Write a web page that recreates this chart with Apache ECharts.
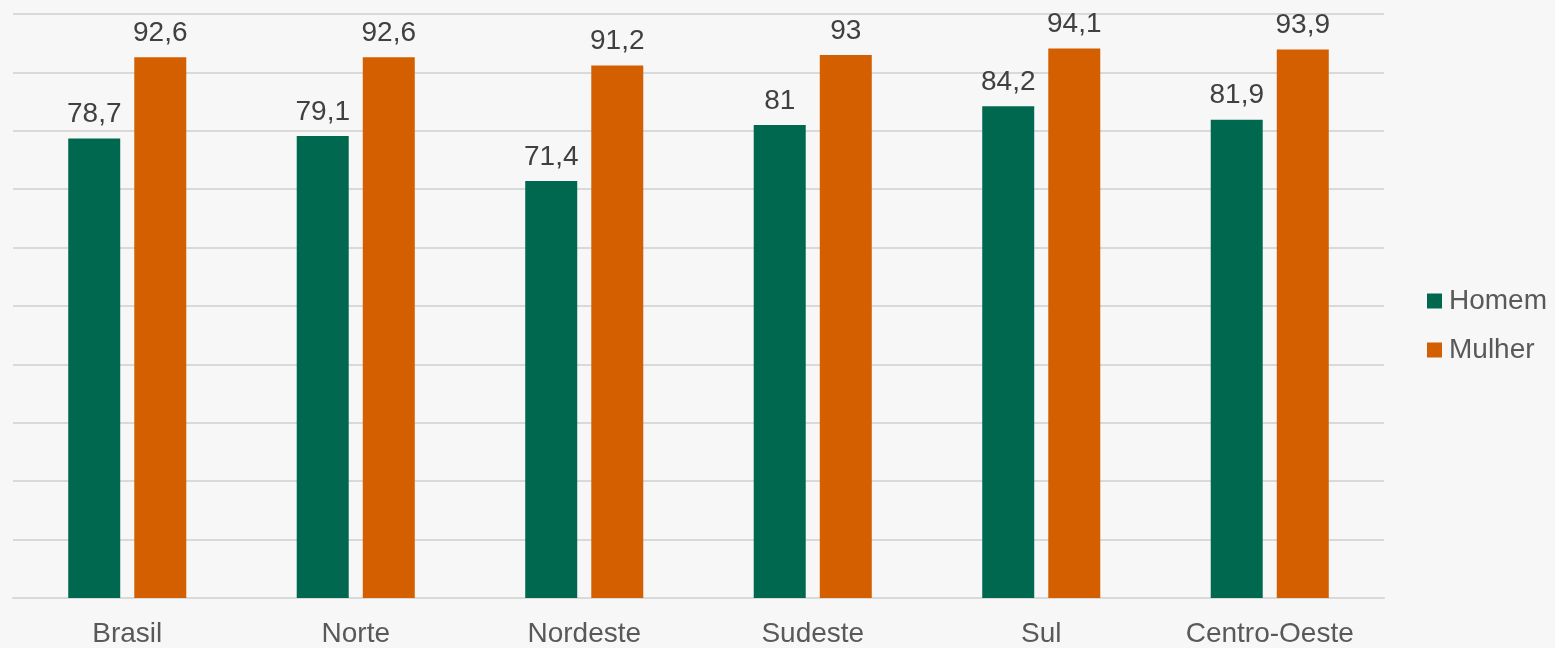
<!DOCTYPE html>
<html>
<head>
<meta charset="utf-8">
<script src="https://cdn.jsdelivr.net/npm/echarts@6/dist/echarts.min.js"></script>
<style>
  html, body { margin: 0; padding: 0; background: #f7f7f7; }
  #chart { width: 1555px; height: 648px; }
</style>
</head>
<body>
<div id="chart"></div>
<script>
// dados
const regioes = ['Brasil', 'Norte', 'Nordeste', 'Sudeste', 'Sul', 'Centro-Oeste'];
const homem = [78.7, 79.1, 71.4, 81, 84.2, 81.9];
const mulher = [92.6, 92.6, 91.2, 93, 94.1, 93.9];

const fmt = p => String(p.value).replace('.', ',');

const myChart = echarts.init(document.getElementById('chart'));
myChart.setOption({
  backgroundColor: '#f7f7f7',
  textStyle: { fontFamily: '"Liberation Sans", Arial, sans-serif' },
  animation: false,
  grid: { left: 13, right: 171, top: 14, bottom: 49, containLabel: false },
  legend: {
    orient: 'vertical',
    left: 1422,
    top: 282,
    itemWidth: 15,
    itemHeight: 15,
    itemGap: 21,
    icon: 'rect',
    textStyle: { fontSize: 28, color: '#595959', padding: [0, 0, 0, 2] },
    data: ['Homem', 'Mulher']
  },
  xAxis: {
    type: 'category',
    data: regioes,
    axisLine: { lineStyle: { color: '#d9d9d9', width: 2 } },
    axisTick: { show: false },
    axisLabel: { fontSize: 28, color: '#595959', margin: 22 }
  },
  yAxis: {
    type: 'value',
    min: 0,
    max: 100,
    interval: 10,
    axisLabel: { show: false },
    splitLine: { lineStyle: { color: '#d9d9d9', width: 2 } }
  },
  series: [
    {
      name: 'Homem',
      type: 'bar',
      data: homem,
      barWidth: 52,
      barGap: '27%',
      itemStyle: { color: '#00684f' },
      label: { show: true, position: 'top', distance: 10, fontSize: 28, color: '#404040', formatter: fmt }
    },
    {
      name: 'Mulher',
      type: 'bar',
      data: mulher,
      barWidth: 52,
      itemStyle: { color: '#d35f00' },
      label: { show: true, position: 'top', distance: 10, fontSize: 28, color: '#404040', formatter: fmt }
    }
  ]
});
window.onresize = function () {
  myChart.resize();
};
</script>
</body>
</html>
